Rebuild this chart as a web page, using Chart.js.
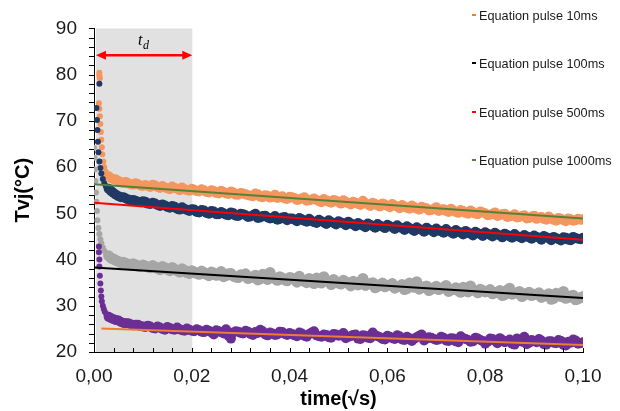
<!DOCTYPE html>
<html>
<head>
<meta charset="utf-8">
<script src="https://cdn.jsdelivr.net/npm/chart.js@4.4.1/dist/chart.umd.min.js"></script>
<style>
  html, body { margin: 0; padding: 0; background: #fff; }
</style>
</head>
<body>
<canvas id="c" width="620" height="411"></canvas>
<script>
// shared sample times after the initial spike (√s)
const tailTimes = [
  0.003, 0.004, 0.005, 0.006, 0.007, 0.008, 0.009, 0.010,
  0.011, 0.012, 0.013, 0.014, 0.015, 0.016, 0.017, 0.018, 0.019, 0.020,
  0.021, 0.022, 0.023, 0.024, 0.025, 0.026, 0.027, 0.028, 0.029, 0.030,
  0.031, 0.032, 0.033, 0.034, 0.035, 0.036, 0.037, 0.038, 0.039, 0.040,
  0.041, 0.042, 0.043, 0.044, 0.045, 0.046, 0.047, 0.048, 0.049, 0.050,
  0.051, 0.052, 0.053, 0.054, 0.055, 0.056, 0.057, 0.058, 0.059, 0.060,
  0.061, 0.062, 0.063, 0.064, 0.065, 0.066, 0.067, 0.068, 0.069, 0.070,
  0.071, 0.072, 0.073, 0.074, 0.075, 0.076, 0.077, 0.078, 0.079, 0.080,
  0.081, 0.082, 0.083, 0.084, 0.085, 0.086, 0.087, 0.088, 0.089, 0.090,
  0.091, 0.092, 0.093, 0.094, 0.095, 0.096, 0.097, 0.098, 0.099, 0.100
];
// in-between sample times
const midTimes = [
  0.0035, 0.0045, 0.0055, 0.0065, 0.0075, 0.0085, 0.0095,
  0.0105, 0.0115, 0.0125, 0.0135, 0.0145, 0.0155, 0.0165, 0.0175, 0.0185, 0.0195,
  0.0205, 0.0215, 0.0225, 0.0235, 0.0245, 0.0255, 0.0265, 0.0275, 0.0285, 0.0295,
  0.0305, 0.0315, 0.0325, 0.0335, 0.0345, 0.0355, 0.0365, 0.0375, 0.0385, 0.0395,
  0.0405, 0.0415, 0.0425, 0.0435, 0.0445, 0.0455, 0.0465, 0.0475, 0.0485, 0.0495,
  0.0505, 0.0515, 0.0525, 0.0535, 0.0545, 0.0555, 0.0565, 0.0575, 0.0585, 0.0595,
  0.0605, 0.0615, 0.0625, 0.0635, 0.0645, 0.0655, 0.0665, 0.0675, 0.0685, 0.0695,
  0.0705, 0.0715, 0.0725, 0.0735, 0.0745, 0.0755, 0.0765, 0.0775, 0.0785, 0.0795,
  0.0805, 0.0815, 0.0825, 0.0835, 0.0845, 0.0855, 0.0865, 0.0875, 0.0885, 0.0895,
  0.0905, 0.0915, 0.0925, 0.0935, 0.0945, 0.0955, 0.0965, 0.0975, 0.0985, 0.0995
];

// orange data (top)
const orangeSpikeTimes = [0.0011, 0.0011, 0.0012, 0.0010, 0.0011, 0.0012, 0.0013, 0.0014, 0.0015, 0.0016, 0.0017, 0.0019, 0.0021, 0.0024, 0.0027];
const orangeSpikeTemps = [80.4, 79.8, 79.2, 73.8, 72.6, 71.0, 69.3, 67.6, 65.9, 64.3, 62.8, 61.2, 60.0, 59.0, 58.4];
const orangeTailTemps = [
  58.0, 57.4, 57.0, 56.6, 56.5, 56.2, 56.3, 55.9,
  55.9, 56.2, 55.7, 55.9, 55.4, 55.8, 55.3, 55.6, 55.0, 55.3,
  54.8, 55.2, 54.6, 55.0, 54.4, 54.9, 54.3, 54.7, 54.0, 54.4,
  54.1, 53.8, 54.3, 53.6, 53.9, 53.4, 54.0, 53.5, 53.2, 53.6,
  53.3, 53.0, 53.5, 52.8, 53.2, 52.6, 53.1, 52.5, 52.9, 52.4,
  52.8, 52.2, 52.5, 52.0, 52.7, 51.9, 52.3, 51.7, 52.1, 51.6,
  52.0, 51.5, 51.8, 51.2, 51.7, 51.0, 51.4, 51.1, 50.7, 51.3,
  50.8, 50.5, 51.0, 50.3, 50.7, 50.1, 50.6, 49.9, 50.4, 50.0,
  49.7, 50.2, 49.6, 49.9, 49.3, 49.8, 49.2, 49.6, 49.0, 49.5,
  49.1, 48.8, 49.3, 48.6, 49.0, 48.5, 48.9, 48.4, 48.8, 48.7
];
const orangeMidTemps = [
  57.6, 57.3, 56.7, 56.8, 56.3, 56.5, 56.0,
  56.1, 55.7, 56.0, 55.5, 55.6, 55.2, 55.5, 55.0, 55.2, 54.9,
  55.1, 54.7, 55.0, 54.5, 54.8, 54.3, 54.6, 54.2, 54.5, 54.0,
  54.3, 53.9, 53.7, 54.1, 53.5, 53.8, 53.6, 53.3, 53.7, 53.1,
  53.5, 52.9, 53.2, 52.7, 53.0, 52.9, 52.4, 52.8, 52.3, 52.7,
  52.1, 52.5, 51.9, 52.3, 51.8, 52.2, 51.6, 52.0, 51.5, 51.9,
  51.3, 51.7, 51.1, 51.5, 51.0, 51.3, 50.8, 51.2, 50.6, 51.0,
  50.5, 50.9, 50.3, 50.6, 50.1, 50.5, 49.9, 50.3, 49.8, 50.2,
  49.6, 49.9, 49.4, 49.8, 49.2, 49.5, 49.1, 49.4, 48.9, 49.3,
  48.8, 49.2, 48.6, 48.9, 48.4, 48.8, 48.3, 48.7, 48.5, 48.6
];

// navy data
const navySpikeTimes = [0.0011, 0.0005, 0.0006, 0.0007, 0.0008, 0.0009, 0.0011, 0.0013, 0.0015, 0.0018, 0.0021, 0.0024, 0.0027];
const navySpikeTemps = [78.0, 72.8, 70.2, 68.0, 65.5, 63.2, 61.2, 59.8, 58.6, 57.4, 56.5, 55.9, 55.5];
const navyTailTemps = [
  55.3, 54.4, 53.7, 53.5, 53.0, 52.9, 52.5, 52.6,
  52.1, 52.3, 51.8, 51.9, 51.4, 51.6, 51.0, 51.3, 50.7, 50.9,
  50.3, 50.7, 50.1, 50.5, 49.8, 50.3, 49.7, 50.2, 49.5, 49.9,
  49.6, 49.3, 49.9, 49.1, 49.5, 48.9, 49.4, 48.8, 49.2, 48.9,
  48.6, 49.0, 48.4, 48.8, 48.1, 48.6, 48.0, 48.5, 47.9, 48.3,
  47.8, 48.2, 47.6, 47.9, 47.3, 47.8, 47.2, 47.7, 47.1, 47.5,
  47.0, 47.4, 46.8, 47.2, 46.5, 47.0, 46.4, 46.9, 46.3, 46.7,
  46.1, 46.6, 45.9, 46.4, 45.8, 46.2, 45.6, 46.0, 45.5, 45.9,
  45.3, 45.8, 45.2, 45.6, 45.0, 45.5, 44.9, 45.3, 44.8, 45.2,
  44.7, 45.1, 44.6, 44.9, 44.4, 44.8, 44.3, 44.9, 44.5, 44.7
];
const navyMidTemps = [
  54.8, 54.0, 53.5, 53.2, 52.8, 52.7, 52.4,
  52.5, 52.0, 52.1, 51.6, 51.7, 51.2, 51.4, 50.8, 51.0, 50.5,
  50.8, 50.2, 50.6, 49.9, 50.4, 49.8, 50.0, 49.6, 50.0, 49.4,
  49.8, 49.2, 49.6, 49.0, 49.4, 49.1, 49.0, 48.6, 49.1, 48.5,
  48.9, 48.3, 48.7, 48.2, 48.4, 47.9, 48.3, 47.7, 48.1, 47.6,
  48.0, 47.4, 47.8, 47.2, 47.6, 47.0, 47.5, 46.9, 47.3, 46.8,
  47.2, 46.6, 47.0, 46.4, 46.8, 46.2, 46.6, 46.0, 46.5, 45.9,
  46.3, 45.8, 46.1, 45.6, 46.0, 45.4, 45.8, 45.2, 45.7, 45.1,
  45.6, 45.0, 45.4, 44.8, 45.3, 44.7, 45.1, 44.6, 45.0, 44.5,
  44.9, 44.3, 44.8, 44.2, 44.6, 44.1, 44.7, 44.2, 44.6, 44.4
];

// grey data
const greySpikeTimes = [0.0000, 0.0001, 0.0002, 0.0003, 0.0004, 0.0005, 0.0006, 0.0007, 0.0009, 0.0011, 0.0013, 0.0015, 0.0018, 0.0021, 0.0025];
const greySpikeTemps = [64.2, 62.0, 59.5, 57.0, 54.5, 52.5, 50.5, 48.5, 46.8, 45.5, 44.4, 43.5, 42.6, 41.9, 41.3];
const greyTailTemps = [
  40.8, 40.1, 39.6, 39.4, 39.0, 39.1, 38.6, 38.8,
  38.4, 38.7, 38.1, 38.5, 37.9, 38.3, 37.6, 38.0, 37.2, 37.6,
  37.0, 37.5, 36.8, 37.3, 36.6, 37.4, 36.5, 37.0, 36.2, 36.7,
  36.9, 36.1, 36.6, 35.8, 36.4, 37.2, 35.9, 36.3, 35.6, 36.1,
  35.7, 36.4, 35.3, 35.9, 34.8, 35.6, 36.3, 35.2, 35.7, 34.9,
  35.5, 34.8, 35.3, 34.5, 35.9, 34.7, 35.0, 34.2, 34.9, 34.4,
  34.8, 34.1, 34.6, 33.7, 34.5, 35.2, 33.9, 34.3, 33.6, 34.2,
  33.8, 34.4, 33.4, 33.9, 32.9, 33.7, 34.3, 33.2, 33.6, 33.0,
  33.5, 32.8, 33.3, 32.4, 33.8, 32.7, 33.1, 32.3, 32.9, 32.5,
  32.8, 32.1, 32.6, 31.6, 32.4, 33.1, 31.8, 32.3, 31.5, 32.0
];
const greyMidTemps = [
  40.3, 39.8, 39.3, 39.2, 38.8, 38.9, 38.5,
  38.6, 38.2, 38.4, 37.8, 38.2, 37.6, 37.9, 37.3, 37.7, 37.0,
  37.3, 36.8, 37.2, 36.5, 37.1, 36.7, 36.3, 36.9, 36.4, 36.1,
  36.6, 35.9, 36.3, 35.6, 36.8, 35.7, 36.2, 35.5, 36.0, 35.4,
  36.0, 35.1, 35.6, 35.0, 35.4, 36.0, 34.9, 35.4, 34.6, 35.2,
  34.7, 35.2, 34.3, 34.9, 35.3, 34.4, 34.8, 33.9, 34.6, 34.1,
  34.5, 33.8, 34.2, 33.5, 34.9, 34.0, 33.6, 34.1, 33.3, 33.9,
  33.5, 34.0, 33.1, 33.6, 33.2, 34.0, 33.0, 33.4, 32.8, 33.3,
  33.1, 32.6, 33.0, 32.2, 33.4, 32.5, 32.8, 32.0, 32.7, 32.2,
  32.5, 31.8, 32.3, 31.4, 32.7, 32.0, 31.6, 32.1, 31.3, 31.8
];

// purple data (bottom)
const purpleSpikeTimes = [0.0010, 0.0010, 0.0011, 0.0011, 0.0012, 0.0013, 0.0014, 0.0015, 0.0016, 0.0018, 0.0020, 0.0022, 0.0025, 0.0028];
const purpleSpikeTemps = [42.8, 41.6, 40.0, 38.5, 36.5, 34.8, 33.3, 32.0, 31.0, 30.0, 29.3, 28.7, 28.2, 27.8];
const purpleTailTemps = [
  27.6, 27.1, 26.8, 26.3, 26.2, 25.8, 25.9, 25.5,
  25.7, 25.2, 25.5, 25.0, 25.4, 24.9, 25.3, 24.7, 25.1, 24.6,
  24.9, 24.4, 24.8, 24.2, 24.7, 24.3, 24.9, 22.9, 24.5, 24.1,
  24.6, 23.9, 24.3, 24.8, 23.8, 24.2, 23.7, 24.4, 23.9, 24.1,
  23.6, 24.2, 23.5, 23.9, 24.5, 23.4, 23.8, 23.2, 23.9, 23.5,
  24.1, 23.3, 23.7, 22.9, 23.6, 23.1, 24.2, 23.4, 22.8, 23.5,
  23.0, 23.6, 22.7, 23.3, 22.4, 23.2, 23.8, 22.9, 23.1, 22.6,
  23.3, 22.5, 23.0, 22.3, 23.4, 22.8, 22.2, 23.1, 22.6, 21.8,
  22.9, 22.4, 23.0, 22.1, 22.7, 21.6, 22.5, 23.3, 22.0, 22.4,
  22.8, 21.7, 22.3, 22.0, 22.6, 21.5, 22.2, 22.7, 21.8, 22.1
];
const purpleMidTemps = [
  27.3, 26.9, 26.5, 26.2, 26.0, 25.9, 25.6,
  25.4, 25.5, 25.1, 25.3, 24.8, 25.2, 24.8, 24.9, 24.6, 24.8,
  24.5, 24.7, 24.3, 24.6, 23.8, 24.5, 24.0, 23.5, 24.2, 24.4,
  24.0, 24.4, 23.7, 24.1, 24.5, 23.6, 24.0, 23.8, 24.3, 23.7,
  23.9, 23.4, 24.0, 23.3, 24.2, 23.6, 23.3, 23.7, 23.1, 23.8,
  23.6, 23.0, 23.4, 23.8, 22.8, 23.5, 23.0, 23.6, 23.2, 22.7,
  23.3, 22.8, 23.4, 22.6, 23.0, 22.9, 23.5, 22.5, 23.2, 22.8,
  22.7, 23.1, 22.4, 22.9, 22.1, 23.0, 22.6, 22.3, 22.9, 22.4,
  22.2, 22.8, 21.9, 22.6, 22.3, 21.8, 22.9, 22.2, 21.7, 22.6,
  22.1, 22.5, 21.6, 22.3, 21.9, 22.4, 21.4, 22.0, 22.5, 21.9
];

// fitted equation lines
const fitNames = ['Equation pulse 10ms', 'Equation pulse 100ms', 'Equation pulse 500ms', 'Equation pulse 1000ms'];
const fitStartX = [0.0015, 0, 0, 0];
const fitStartY = [25.1, 38.3, 52.3, 56.3];
const fitEndX = [0.1, 0.1, 0.1, 0.1];
const fitEndY = [21.5, 31.7, 44.3, 48.9];

const xTickValues = [0, 0.02, 0.04, 0.06, 0.08, 0.10];
const yTickValues = [20, 30, 40, 50, 60, 70, 80, 90];

// shaded t_d window
const tdStart = 0.0004;
const tdEnd = 0.0201;
const tdArrowY = 84.2;

const FONT = '"Liberation Sans", Arial, sans-serif';
const fitColors = ['#ED7D31', '#000000', '#FF0000', '#548235'];

function pts(times, temps) {
  return times.map((t, i) => ({ x: t, y: temps[i] }));
}

function scatterSet(spT, spV, tailV, midV, color, tailRadius) {
  const n = spT.length;
  return {
    type: 'scatter',
    data: pts(spT, spV).concat(pts(tailTimes, tailV), pts(midTimes, midV)),
    backgroundColor: color,
    borderWidth: 0,
    pointRadius: (c) => (c.dataIndex < n ? 3 : tailRadius),
    order: 2,
  };
}

const datasets = fitNames.map((name, i) => ({
  type: 'line',
  label: name,
  data: [{ x: fitStartX[i], y: fitStartY[i] }, { x: fitEndX[i], y: fitEndY[i] }],
  borderColor: fitColors[i],
  borderWidth: 2,
  pointRadius: 0,
  fill: false,
  order: 1,
}));

datasets.push(
  scatterSet(purpleSpikeTimes, purpleSpikeTemps, purpleTailTemps, purpleMidTemps, '#6B2E94', 5),
  scatterSet(greySpikeTimes, greySpikeTemps, greyTailTemps, greyMidTemps, '#A6A6A6', 5.5),
  scatterSet(navySpikeTimes, navySpikeTemps, navyTailTemps, navyMidTemps, '#1F3864', 5),
  scatterSet(orangeSpikeTimes, orangeSpikeTemps, orangeTailTemps, orangeMidTemps, '#F5965F', 5),
);

const decor = {
  id: 'decor',
  beforeDatasetsDraw(chart) {
    const { ctx, chartArea: a, scales: { x } } = chart;
    ctx.save();
    ctx.fillStyle = '#E1E1E1';
    const x0 = x.getPixelForValue(tdStart), x1 = x.getPixelForValue(tdEnd);
    ctx.fillRect(x0, a.top, x1 - x0, a.bottom - a.top);
    ctx.restore();
  },
  afterDraw(chart) {
    const { ctx, chartArea: a, scales: { x, y } } = chart;
    ctx.save();
    // minor ticks
    ctx.strokeStyle = '#000';
    ctx.lineWidth = 1;
    ctx.beginPath();
    for (let v = 20; v <= 90; v += 2) {
      const py = Math.round(y.getPixelForValue(v)) + 0.5;
      ctx.moveTo(a.left - 5, py); ctx.lineTo(a.left, py);
    }
    for (let k = 0; k <= 25; k++) {
      const px = Math.round(x.getPixelForValue(k * 0.004)) + 0.5;
      ctx.moveTo(px, a.bottom); ctx.lineTo(px, a.bottom - 4);
    }
    ctx.stroke();

    // t_d arrow
    const ax0 = x.getPixelForValue(tdStart), ax1 = x.getPixelForValue(tdEnd);
    const ay = y.getPixelForValue(tdArrowY);
    ctx.strokeStyle = '#FF0000';
    ctx.fillStyle = '#FF0000';
    ctx.lineWidth = 2.5;
    ctx.beginPath();
    ctx.moveTo(ax0 + 6, ay); ctx.lineTo(ax1 - 6, ay);
    ctx.stroke();
    ctx.beginPath();
    ctx.moveTo(ax0, ay); ctx.lineTo(ax0 + 10, ay - 4.5); ctx.lineTo(ax0 + 10, ay + 4.5); ctx.closePath();
    ctx.moveTo(ax1, ay); ctx.lineTo(ax1 - 10, ay - 4.5); ctx.lineTo(ax1 - 10, ay + 4.5); ctx.closePath();
    ctx.fill();

    const mid = (ax0 + ax1) / 2;
    ctx.fillStyle = '#000';
    ctx.textBaseline = 'alphabetic';
    ctx.font = 'italic 16px "Liberation Serif", serif';
    ctx.fillText('t', mid - 6, ay - 10);
    ctx.font = 'italic 12px "Liberation Serif", serif';
    ctx.fillText('d', mid - 1, ay - 6);

    // legend
    const rows = [15, 63, 112, 160];
    ctx.font = '12.7px ' + FONT;
    ctx.textBaseline = 'middle';
    fitNames.forEach((name, i) => {
      ctx.fillStyle = fitColors[i];
      ctx.fillRect(472, rows[i] - 1, 4, 2);
      ctx.fillStyle = '#1a1a1a';
      ctx.fillText(name, 479, rows[i] + 1);
    });
    ctx.restore();
  },
};

new Chart(document.getElementById('c'), {
  data: { datasets },
  options: {
    responsive: false,
    animation: false,
    events: [],
    layout: { padding: { left: 0, right: 37, top: 20, bottom: 0 } },
    plugins: { legend: { display: false }, tooltip: { enabled: false } },
    scales: {
      x: {
        type: 'linear', min: 0, max: 0.1,
        afterBuildTicks: (s) => { s.ticks = xTickValues.map((v) => ({ value: v })); },
        afterFit: (s) => { s.height = 59; },
        grid: { display: false, drawTicks: false },
        border: { display: true, color: '#000', width: 1 },
        ticks: {
          padding: 13, color: '#1a1a1a', maxRotation: 0, autoSkip: false,
          font: { family: FONT, size: 19 },
          callback: (v) => Number(v).toFixed(2).replace('.', ','),
        },
        title: { display: true, text: 'time(√s)', color: '#000', font: { family: FONT, size: 20, weight: 'bold' }, padding: { top: 0, bottom: 0 } },
      },
      y: {
        type: 'linear', min: 20, max: 90,
        afterBuildTicks: (s) => { s.ticks = yTickValues.map((v) => ({ value: v })); },
        afterFit: (s) => { s.width = 94; },
        grid: { display: false, drawTicks: false },
        border: { display: true, color: '#000', width: 1 },
        ticks: { padding: 17, color: '#1a1a1a', autoSkip: false, font: { family: FONT, size: 19 } },
        title: { display: true, text: 'Tvj(°C)', color: '#000', font: { family: FONT, size: 20, weight: 'bold' }, padding: { top: 11, bottom: 0 } },
      },
    },
  },
  plugins: [decor],
});
</script>
</body>
</html>
